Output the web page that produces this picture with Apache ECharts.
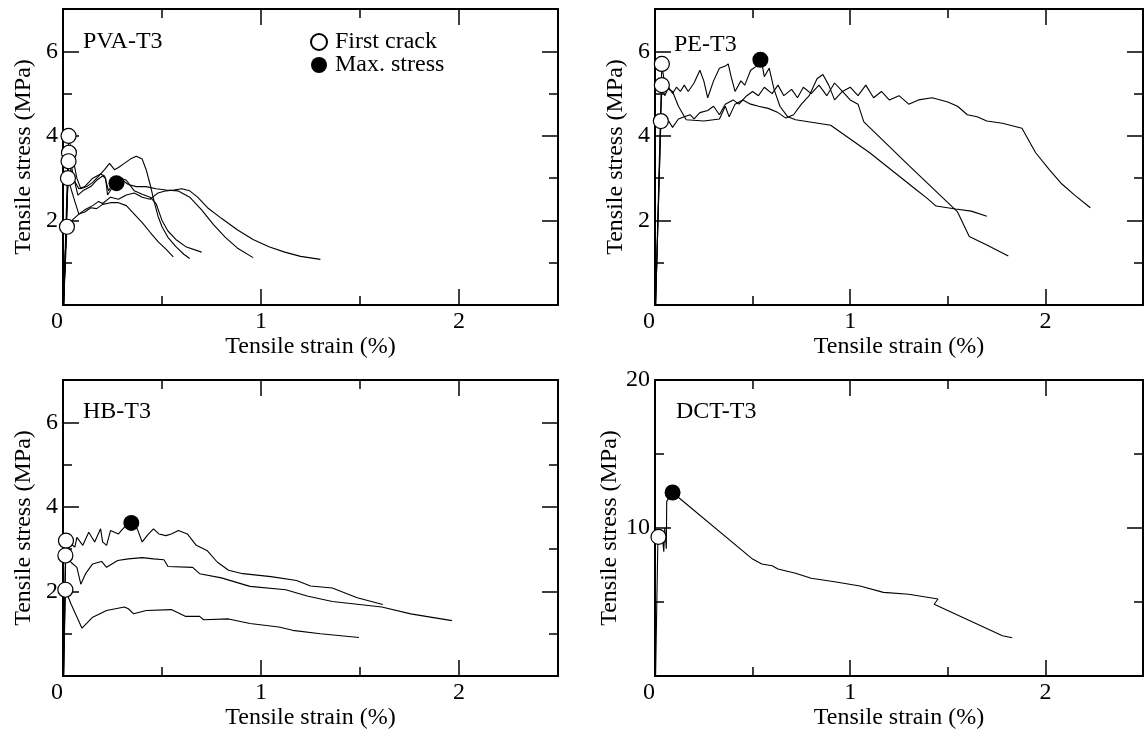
<!DOCTYPE html>
<html>
<head>
<meta charset="utf-8">
<script src="https://cdn.jsdelivr.net/npm/echarts@6/dist/echarts.min.js"></script>
<style>
  html, body { margin: 0; padding: 0; background: #fff; }
  #chart { width: 1146px; height: 733px; }
</style>
</head>
<body>
<div id="chart"></div>
<script>
// * tensile stress-strain curves, four specimens

// ? shared tick labels
const xLabels = [0, 1, 2]
const stressLabels = [2, 4, 6]
const dctStressLabels = [10, 20]

// ? PVA-T3  [strain %, stress MPa]
const pvaCurve1 = [[0.003,0],[0.028,4.0],[0.045,3.6],[0.07,3.0],[0.09,2.75],[0.12,2.8],[0.15,2.9],[0.18,3.05],[0.21,3.2],[0.235,3.35],[0.26,3.2],[0.28,3.25],[0.31,3.35],[0.34,3.45],[0.37,3.52],[0.4,3.45],[0.42,3.2],[0.44,2.85],[0.46,2.45],[0.48,2.1],[0.5,1.85],[0.53,1.6],[0.57,1.38],[0.61,1.2],[0.64,1.1]]
const pvaCurve2 = [[0.003,0],[0.03,3.6],[0.05,3.1],[0.075,2.6],[0.1,2.7],[0.14,2.8],[0.17,2.95],[0.2,3.05],[0.215,3.0],[0.225,2.6],[0.245,2.75],[0.265,2.9],[0.3,2.95],[0.33,2.85],[0.37,2.8],[0.42,2.8],[0.47,2.75],[0.52,2.72],[0.58,2.7],[0.64,2.55],[0.7,2.25],[0.76,1.9],[0.82,1.6],[0.88,1.35],[0.96,1.12]]
const pvaCurve3 = [[0.003,0],[0.028,3.4],[0.05,3.0],[0.08,2.75],[0.11,2.8],[0.15,3.0],[0.19,3.1],[0.21,3.05],[0.23,2.7],[0.26,2.95],[0.29,3.0],[0.32,2.95],[0.36,2.7],[0.4,2.62],[0.44,2.55],[0.47,2.4],[0.5,2.0],[0.53,1.75],[0.57,1.55],[0.62,1.38],[0.7,1.25]]
const pvaCurve4 = [[0.003,0],[0.025,3.0],[0.05,2.6],[0.08,2.15],[0.11,2.25],[0.15,2.35],[0.18,2.45],[0.2,2.4],[0.24,2.55],[0.28,2.5],[0.32,2.6],[0.36,2.65],[0.4,2.55],[0.44,2.5],[0.48,2.65],[0.52,2.7],[0.56,2.72],[0.6,2.75],[0.64,2.7],[0.68,2.55],[0.73,2.3],[0.8,2.05],[0.88,1.78],[0.96,1.55],[1.04,1.38],[1.12,1.25],[1.2,1.15],[1.3,1.08]]
const pvaCurve5 = [[0.003,0],[0.02,1.85],[0.045,2.0],[0.08,2.15],[0.11,2.2],[0.14,2.3],[0.17,2.28],[0.2,2.38],[0.24,2.42],[0.28,2.42],[0.32,2.35],[0.36,2.15],[0.4,1.95],[0.44,1.72],[0.48,1.5],[0.52,1.32],[0.557,1.14]]
const pvaFirstCrack = [[0.028,4.0],[0.03,3.6],[0.028,3.4],[0.025,3.0],[0.02,1.85]]
const pvaMaxStress = [[0.27,2.88]]

// ? PE-T3
const peCurve1 = [[0.003,0],[0.035,5.2],[0.05,4.95],[0.07,5.15],[0.09,5.0],[0.11,5.15],[0.13,5.05],[0.15,5.2],[0.17,5.05],[0.2,5.25],[0.23,5.55],[0.25,5.3],[0.27,4.9],[0.3,5.3],[0.33,5.6],[0.36,5.65],[0.375,5.7],[0.39,5.4],[0.41,5.05],[0.44,5.3],[0.46,5.2],[0.49,5.55],[0.52,5.65],[0.545,5.78],[0.56,5.4],[0.585,5.6],[0.61,5.1],[0.64,4.7],[0.68,4.45],[0.72,4.38],[0.9,4.25],[1.1,3.6],[1.34,2.72],[1.39,2.54],[1.44,2.34],[1.54,2.27],[1.62,2.22],[1.7,2.1]]
const peCurve2 = [[0.003,0],[0.035,5.7],[0.05,5.2],[0.07,5.1],[0.09,5.05],[0.12,4.7],[0.16,4.38],[0.25,4.35],[0.33,4.4],[0.36,4.7],[0.38,4.45],[0.41,4.75],[0.45,4.85],[0.49,4.75],[0.53,4.7],[0.58,4.65],[0.63,4.55],[0.67,4.42],[0.71,4.5],[0.75,4.75],[0.79,4.95],[0.83,5.35],[0.86,5.45],[0.89,5.2],[0.92,4.85],[0.96,5.05],[1.0,4.85],[1.04,4.75],[1.07,4.33],[1.3,3.3],[1.55,2.2],[1.61,1.62],[1.7,1.42],[1.81,1.16]]
const peCurve3 = [[0.003,0],[0.03,4.35],[0.05,4.2],[0.07,4.35],[0.09,4.2],[0.12,4.4],[0.15,4.45],[0.18,4.5],[0.2,4.4],[0.23,4.55],[0.27,4.6],[0.3,4.7],[0.33,4.5],[0.36,4.75],[0.4,4.85],[0.43,4.75],[0.47,4.95],[0.5,5.05],[0.53,4.95],[0.56,5.15],[0.6,5.0],[0.63,5.2],[0.66,4.95],[0.7,5.1],[0.73,4.9],[0.76,5.15],[0.8,5.0],[0.84,5.2],[0.88,4.95],[0.92,5.25],[0.96,5.05],[1.0,5.15],[1.04,4.95],[1.08,5.2],[1.12,4.9],[1.16,5.05],[1.2,4.85],[1.25,4.95],[1.3,4.75],[1.35,4.85],[1.42,4.9],[1.5,4.8],[1.55,4.7],[1.6,4.5],[1.65,4.45],[1.7,4.35],[1.78,4.3],[1.88,4.18],[1.95,3.6],[2.02,3.2],[2.08,2.88],[2.15,2.6],[2.23,2.3]]
const peFirstCrack = [[0.035,5.7],[0.035,5.2],[0.03,4.35]]
const peMaxStress = [[0.54,5.8]]

// ? HB-T3
const hbCurve1 = [[0.003,0],[0.015,3.2],[0.06,3.05],[0.07,3.28],[0.1,3.09],[0.13,3.4],[0.16,3.17],[0.19,3.48],[0.2,3.17],[0.22,3.09],[0.24,3.44],[0.28,3.36],[0.31,3.52],[0.345,3.62],[0.375,3.48],[0.4,3.17],[0.43,3.35],[0.457,3.48],[0.484,3.36],[0.52,3.32],[0.547,3.36],[0.583,3.44],[0.628,3.36],[0.673,3.09],[0.727,2.97],[0.78,2.69],[0.836,2.5],[0.908,2.42],[1.05,2.35],[1.18,2.26],[1.25,2.13],[1.36,2.08],[1.486,1.85],[1.615,1.69]]
const hbCurve2 = [[0.003,0],[0.012,2.85],[0.04,2.69],[0.07,2.57],[0.09,2.17],[0.114,2.42],[0.15,2.65],[0.195,2.71],[0.22,2.57],[0.276,2.73],[0.33,2.77],[0.4,2.8],[0.457,2.77],[0.51,2.75],[0.53,2.59],[0.655,2.57],[0.69,2.42],[0.8,2.32],[0.944,2.12],[1.125,2.04],[1.233,1.89],[1.36,1.76],[1.61,1.63],[1.756,1.47],[1.964,1.31]]
const hbCurve3 = [[0.003,0],[0.012,2.04],[0.04,1.71],[0.096,1.13],[0.15,1.39],[0.22,1.55],[0.31,1.63],[0.33,1.59],[0.357,1.47],[0.42,1.55],[0.547,1.57],[0.62,1.41],[0.69,1.41],[0.71,1.33],[0.836,1.35],[0.944,1.24],[1.09,1.16],[1.16,1.08],[1.3,1.0],[1.495,0.91]]
const hbFirstCrack = [[0.015,3.2],[0.012,2.85],[0.012,2.04]]
const hbMaxStress = [[0.345,3.62]]

// ? DCT-T3
const dctCurve = [[0.003,0],[0.015,9.4],[0.035,9.8],[0.045,8.4],[0.05,10.0],[0.058,8.6],[0.06,11.8],[0.09,12.4],[0.5,7.9],[0.547,7.57],[0.6,7.45],[0.63,7.23],[0.72,6.94],[0.8,6.6],[0.92,6.37],[1.05,6.08],[1.17,5.65],[1.3,5.52],[1.45,5.2],[1.43,4.85],[1.78,2.72],[1.83,2.58]]
const dctFirstCrack = [[0.018,9.4]]
const dctMaxStress = [[0.09,12.4]]

const FONT = 'Liberation Serif'
const BLACK = '#000'

const grids = [
  { left: 63, top: 9, width: 495, height: 296 },
  { left: 655, top: 9, width: 493, height: 296 },
  { left: 63, top: 380, width: 495, height: 296 },
  { left: 655, top: 380, width: 493, height: 296 }
]

// each grid gets 4 x axes and 4 y axes: frame + short ticks, plus longer ticks at the labelled steps
// ! onZero must be off everywhere, otherwise the tick-only axes jump to the zero line
const xAxes = []
const yAxes = []
function addAxes(gi, yMax, yMinor, yMajor, yLabels, yNameGap) {
  const tick = (len) => ({ show: true, inside: true, length: len, lineStyle: { color: BLACK, width: 1.5 } })
  const line = { show: true, onZero: false, lineStyle: { color: BLACK, width: 2 } }
  const noLine = { show: false, onZero: false }
  const txt = { color: BLACK, fontFamily: FONT, fontSize: 24 }
  const base = { gridIndex: gi, type: 'value', min: 0, max: 2.5, splitLine: { show: false } }
  xAxes.push(Object.assign({}, base, {
    position: 'bottom', interval: 0.5, axisLine: line, axisTick: tick(9),
    axisLabel: Object.assign({
      margin: 5,
      // 0 sits a little left of the corner, like the original
      formatter: v => v === 0 ? '{o|0}' : (xLabels.includes(v) ? String(v) : ''),
      rich: { o: Object.assign({ padding: [0, 12, 0, 0] }, txt) }
    }, txt),
    name: 'Tensile strain (%)', nameLocation: 'middle', nameGap: 28, nameTextStyle: txt
  }))
  xAxes.push(Object.assign({}, base, { position: 'bottom', interval: 1, axisLine: noLine, axisTick: tick(16), axisLabel: { show: false } }))
  xAxes.push(Object.assign({}, base, { position: 'top', interval: 0.5, axisLine: line, axisTick: tick(9), axisLabel: { show: false } }))
  xAxes.push(Object.assign({}, base, { position: 'top', interval: 1, axisLine: noLine, axisTick: tick(16), axisLabel: { show: false } }))

  const ybase = { gridIndex: gi, type: 'value', min: 0, max: yMax, splitLine: { show: false } }
  yAxes.push(Object.assign({}, ybase, {
    position: 'left', interval: yMinor, axisLine: line, axisTick: tick(9),
    axisLabel: Object.assign({ margin: 5, formatter: v => yLabels.includes(v) ? String(v) : '' }, txt),
    name: 'Tensile stress (MPa)', nameLocation: 'middle', nameGap: yNameGap, nameTextStyle: txt
  }))
  yAxes.push(Object.assign({}, ybase, { position: 'left', interval: yMajor, axisLine: noLine, axisTick: tick(16), axisLabel: { show: false } }))
  yAxes.push(Object.assign({}, ybase, { position: 'right', interval: yMinor, axisLine: line, axisTick: tick(9), axisLabel: { show: false } }))
  yAxes.push(Object.assign({}, ybase, { position: 'right', interval: yMajor, axisLine: noLine, axisTick: tick(16), axisLabel: { show: false } }))
}
addAxes(0, 7, 1, 2, stressLabels, 27)
addAxes(1, 7, 1, 2, stressLabels, 27)
addAxes(2, 7, 1, 2, stressLabels, 27)
addAxes(3, 20, 5, 10, dctStressLabels, 30)

const series = []
function curve(gi, data) {
  series.push({
    type: 'line', xAxisIndex: gi * 4, yAxisIndex: gi * 4, data: data,
    showSymbol: false, silent: true, z: 2,
    lineStyle: { color: BLACK, width: 1.1 }
  })
}
function markers(gi, crack, peak) {
  series.push({
    name: 'First crack', type: 'scatter', xAxisIndex: gi * 4, yAxisIndex: gi * 4, data: crack,
    symbol: 'circle', symbolSize: 15, z: 5,
    itemStyle: { color: '#fff', borderColor: BLACK, borderWidth: 1.2, opacity: 1 }
  })
  series.push({
    name: 'Max. stress', type: 'scatter', xAxisIndex: gi * 4, yAxisIndex: gi * 4, data: peak,
    symbol: 'circle', symbolSize: 16, z: 5,
    itemStyle: { color: BLACK, opacity: 1 }
  })
}
;[pvaCurve1, pvaCurve2, pvaCurve3, pvaCurve4, pvaCurve5].forEach(d => curve(0, d))
markers(0, pvaFirstCrack, pvaMaxStress)
;[peCurve1, peCurve2, peCurve3].forEach(d => curve(1, d))
markers(1, peFirstCrack, peMaxStress)
;[hbCurve1, hbCurve2, hbCurve3].forEach(d => curve(2, d))
markers(2, hbFirstCrack, hbMaxStress)
curve(3, dctCurve)
markers(3, dctFirstCrack, dctMaxStress)

const panelTitle = (text, left, top) => ({
  text: text, left: left, top: top, padding: 0,
  textStyle: { color: BLACK, fontFamily: FONT, fontSize: 24, fontWeight: 'normal' }
})

const chart = echarts.init(document.getElementById('chart'), null, { renderer: 'canvas' })
chart.setOption({
  animation: false,
  backgroundColor: '#fff',
  title: [
    panelTitle('PVA-T3', 83, 30),
    panelTitle('PE-T3', 674, 33),
    panelTitle('HB-T3', 83, 400),
    panelTitle('DCT-T3', 676, 400)
  ],
  legend: {
    data: ['First crack', 'Max. stress'],
    orient: 'vertical', left: 310, top: 30, padding: 0,
    itemWidth: 16, itemHeight: 16, itemGap: -1,
    textStyle: { color: BLACK, fontFamily: FONT, fontSize: 24, padding: [0, 0, 0, 3] },
    selectedMode: false
  },
  grid: grids,
  xAxis: xAxes,
  yAxis: yAxes,
  series: series
})
</script>
</body>
</html>
